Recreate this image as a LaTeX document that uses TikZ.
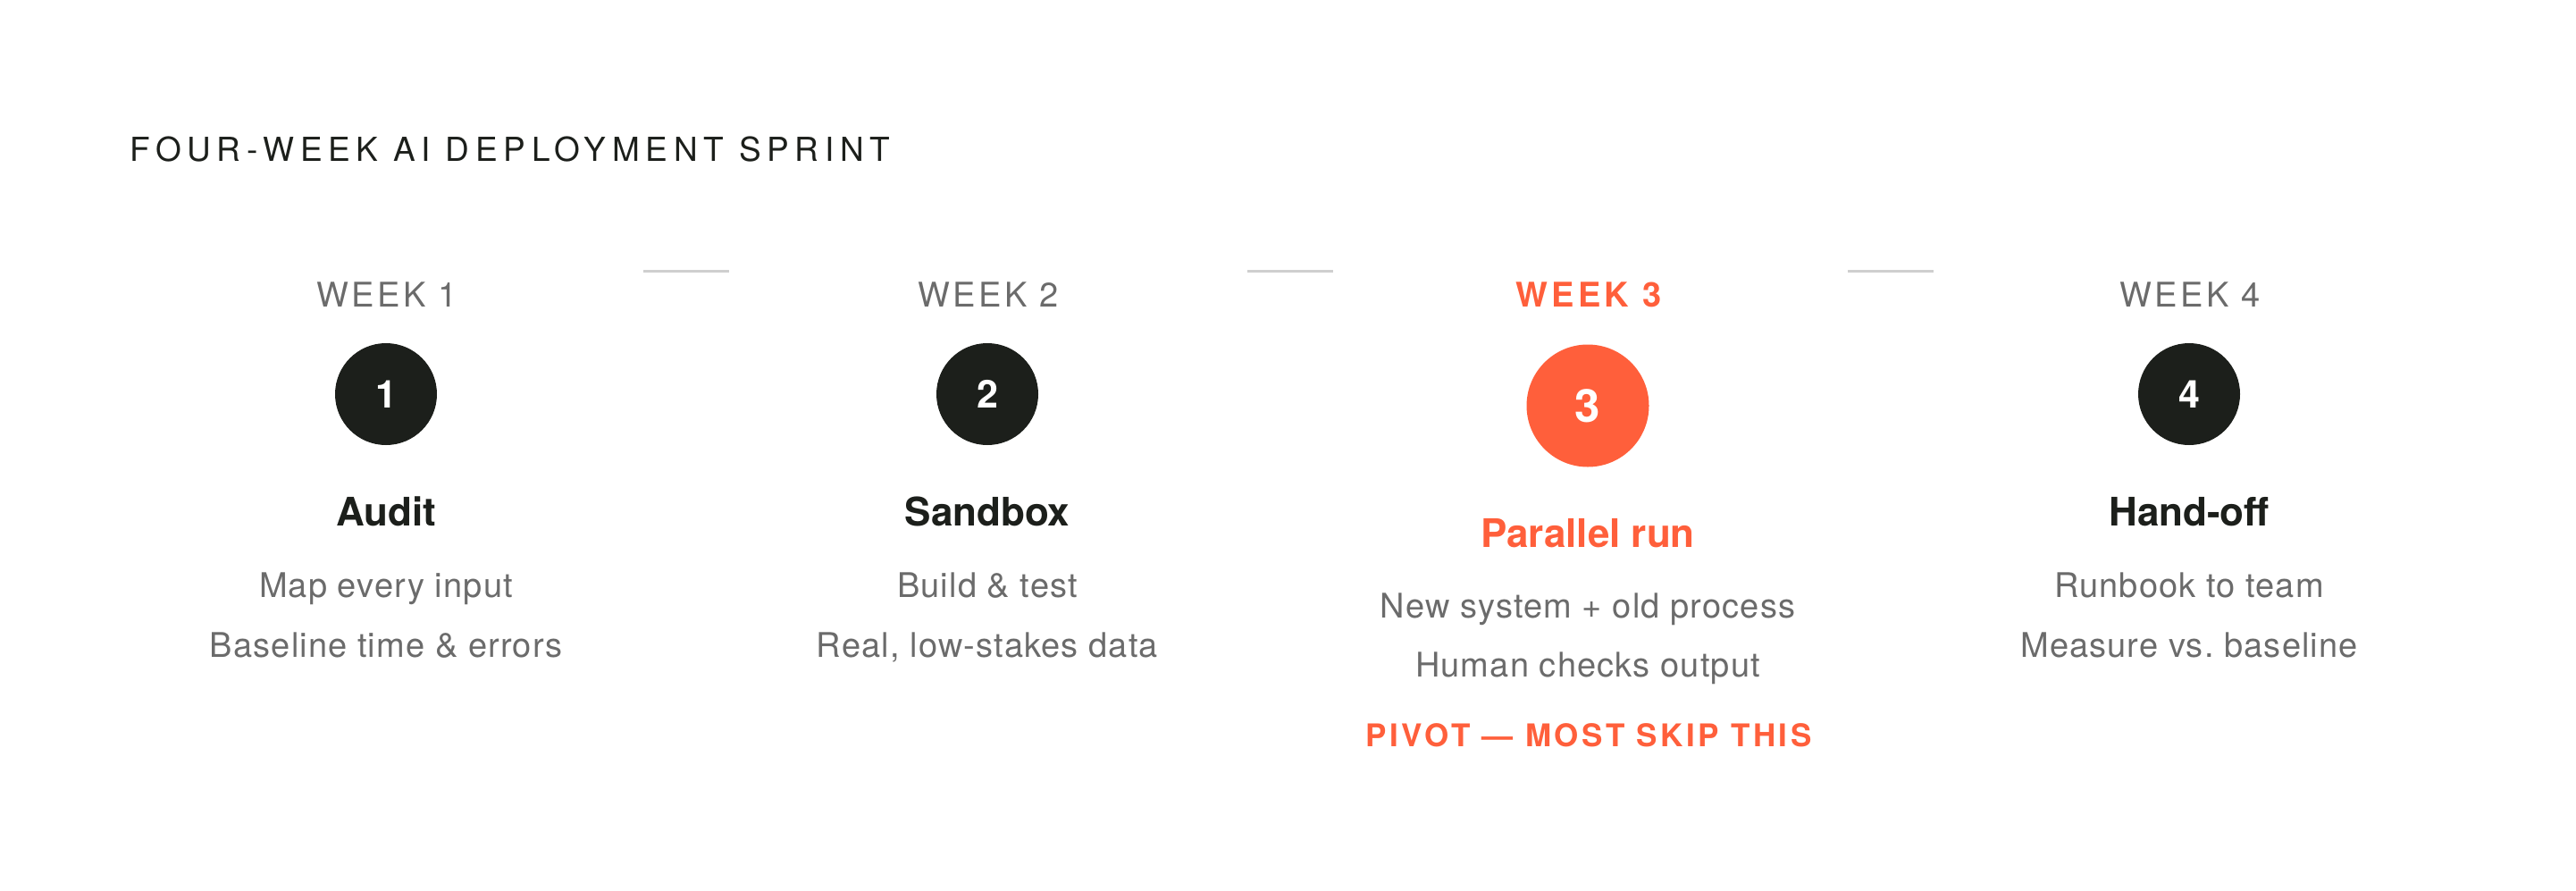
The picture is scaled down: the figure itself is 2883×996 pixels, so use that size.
\documentclass[tikz,border=0pt]{standalone}
\usepackage{fontspec}
\setmainfont{TeX Gyre Heros}
\newfontfamily\titlefont[LetterSpace=18]{TeX Gyre Heros}
\newfontfamily\weekfont[LetterSpace=9]{TeX Gyre Heros}
\newfontfamily\hotfont[LetterSpace=11]{TeX Gyre Heros}
\newfontfamily\pivotfont[LetterSpace=10]{TeX Gyre Heros}
\newfontfamily\bodyfont[LetterSpace=3]{TeX Gyre Heros}
\usetikzlibrary{positioning}
\definecolor{ink}{HTML}{1C1F1B}
\definecolor{accent}{HTML}{FF5F3B}
\definecolor{mute}{HTML}{6B6B6B}
\definecolor{rule}{HTML}{CFCFCF}

\begin{document}
\begin{tikzpicture}
    [x=1pt,y=-1pt,
     week/.style={anchor=base,text=mute,font=\weekfont\fontsize{38}{38}\selectfont},
     weekhot/.style={week,text=accent,font=\hotfont\bfseries\fontsize{38}{38}\selectfont},
     num/.style={circle,fill=ink,text=white,minimum size=114pt,inner sep=0pt,
                 font=\bfseries\fontsize{43}{43}\selectfont},
     numhot/.style={num,fill=accent,minimum size=137pt,font=\bfseries\fontsize{51}{51}\selectfont},
     head/.style={anchor=base,text=ink,font=\bfseries\fontsize{44}{44}\selectfont},
     headhot/.style={head,text=accent},
     body/.style={anchor=base,text=mute,font=\bodyfont\fontsize{38}{38}\selectfont},
     gap/.style={draw=rule,line width=3pt}]
\useasboundingbox (0,0) rectangle (2883,996);

\node[anchor=base west,text=ink,font=\titlefont\fontsize{37}{37}\selectfont]
    (title) at (142,180) {FOUR-WEEK AI DEPLOYMENT SPRINT};

% week 1
\node[week](w1) at (433,343) {WEEK 1};
\node[num](n1) at (432,441) {1};
\node[head](h1) at (432,588) {Audit};
\node[body](a1) at (432,668) {Map every input};
\node[body](b1) at (432,735) {Baseline time \& errors};

% week 2
\node[week](w2) at (1106,343) {WEEK 2};
\node[num](n2) at (1105,441) {2};
\node[head](h2) at (1105,588) {Sandbox};
\node[body](a2) at (1105,668) {Build \& test};
\node[body](b2) at (1105,735) {Real, low-stakes data};

% week 3
\node[weekhot](w3) at (1778,343) {WEEK 3};
\node[numhot](n3) at (1777,454) {3};
\node[headhot](h3) at (1777,612) {Parallel run};
\node[body](a3) at (1777,691) {New system + old process};
\node[body](b3) at (1777,757) {Human checks output};
\node[anchor=base,text=accent,font=\pivotfont\bfseries\fontsize{35}{35}\selectfont]
    (p3) at (1778,835) {PIVOT — MOST SKIP THIS};

% week 4
\node[week](w4) at (2451,343) {WEEK 4};
\node[num](n4) at (2450,441) {4};
\node[head](h4) at (2450,588) {Hand-off};
\node[body](a4) at (2450,668) {Runbook to team};
\node[body](b4) at (2450,735) {Measure vs.\ baseline};

% gaps between weeks
\coordinate (g1a) at (720,303);  \coordinate (g1b) at (816,303);
\coordinate (g2a) at (1396,303); \coordinate (g2b) at (1492,303);
\coordinate (g3a) at (2068,303); \coordinate (g3b) at (2164,303);
\draw[gap] (g1a) -- (g1b);
\draw[gap] (g2a) -- (g2b);
\draw[gap] (g3a) -- (g3b);
\end{tikzpicture}
\end{document}
